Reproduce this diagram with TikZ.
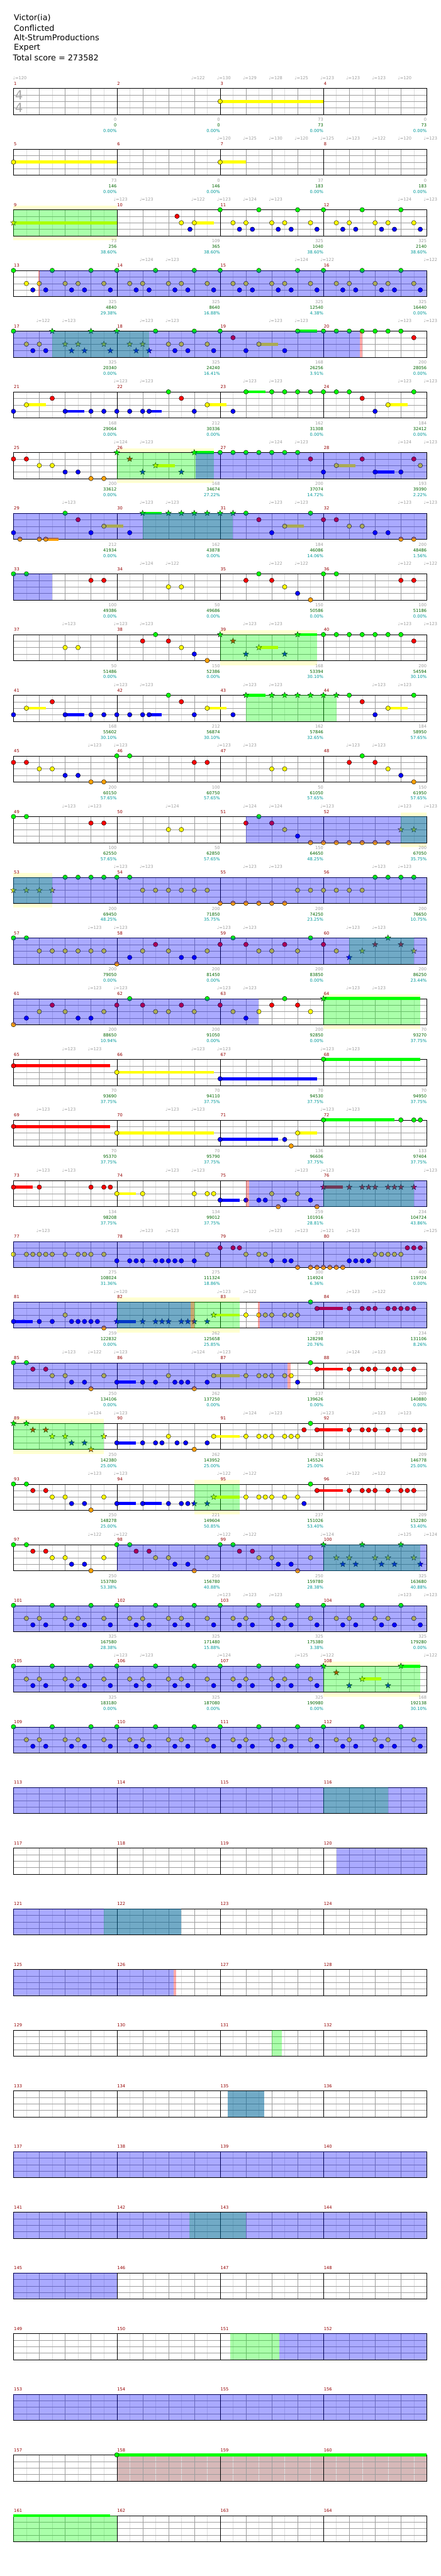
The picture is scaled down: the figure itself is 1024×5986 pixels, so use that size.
\documentclass[tikz,border=0pt]{standalone}
\usepackage{fontspec}
\setmainfont{DejaVu Sans}
\definecolor{ln0}{rgb}{0,1,0}
\definecolor{ln1}{rgb}{1,0,0}
\definecolor{ln2}{rgb}{1,1,0}
\definecolor{ln3}{rgb}{0,0,1}
\definecolor{ln4}{rgb}{1,0.63,0}
\definecolor{gridc}{gray}{0.62}
\definecolor{gridl}{gray}{0.87}
\definecolor{mnum}{rgb}{0.58,0,0}
\definecolor{tgray}{gray}{0.62}
\definecolor{tgreen}{rgb}{0,0.4,0}
\definecolor{tcyan}{rgb}{0,0.6,0.6}
\definecolor{bandc}{rgb}{1,1,0.82}
\definecolor{rosy}{rgb}{0.84,0.72,0.72}
\tikzset{
 small/.style={inner sep=0pt,font=\fontsize{9.8}{11}\selectfont},
 tempo/.style={small,anchor=west,text=tgray,xshift=-7pt},
 mnumst/.style={small,anchor=west,text=mnum,xshift=1pt},
 lgray/.style={small,anchor=east,text=tgray},
 lgreen/.style={small,anchor=east,text=tgreen},
 lcyan/.style={small,anchor=east,text=tcyan},
 head/.style={anchor=west,inner sep=0pt,font=\fontsize{18.7}{23}\selectfont},
 tsig/.style={inner sep=0pt,text=black!35,font=\fontsize{29}{30}\selectfont}
}
\newcommand\ggone[1]{}
\newcommand\ggtwo[2]{}
\newcommand\ggfour[4]{}
\newcommand\allOff{\let\ns\ggone\let\sts\ggone\let\sus\ggone\let\riff\ggone\let\riffs\ggone
 \let\bov\ggtwo\let\gov\ggtwo\let\yband\ggtwo\let\pnk\ggtwo\let\rsy\ggtwo\let\tps\ggone\let\lbl\ggfour}
\newcommand\mynote[2]{\filldraw[fill=ln#2,draw=black,line width=0.6pt] (#1,#2) circle[radius=5.3pt];}
\newcommand\starn[2]{\filldraw[fill=ln#2,draw=black,line width=0.5pt,shift={(#1,#2)},x=1pt,y=1pt]
 (90:7)--(126:2.9)--(162:7)--(198:2.9)--(234:7)--(270:2.9)--(306:7)--(342:2.9)--(18:7)--(54:2.9)--cycle;}
\newcommand\drY[2]{\fill[bandc] (#1,-0.66) rectangle (#2,4.7);}
\newcommand\drR[2]{\fill[rosy] (#1,0) rectangle (#2,4);}
\newcommand\drU[1]{\foreach \a/\b/\c in {#1}{\fill[ln\c] (\a,\c-0.23) rectangle (\b,\c+0.23);}}
\newcommand\drN[1]{\foreach \a/\c in {#1}{\mynote{\a}{\c}}}
\newcommand\drS[1]{\foreach \a/\c in {#1}{\starn{\a}{\c}}}
\newcommand\riffpat{0/0,1.5/0,3/0,0.5/2,1/2,2/2,2.5/2,3.5/2,0.75/3,1.25/3,2.25/3,2.75/3,3.75/3}
\newcommand\drRiff[1]{\foreach \o/\c in \riffpat{\pgfmathsetmacro\xx{4*#1+\o}\mynote{\xx}{\c}}}
\newcommand\drRiffS[1]{\foreach \o/\c in \riffpat{\pgfmathsetmacro\xx{4*#1+\o}\starn{\xx}{\c}}}
\newcommand\drG[2]{\fill[green,opacity=0.333] (#1,0) rectangle (#2,4);}
\newcommand\drB[2]{\fill[blue,opacity=0.333] (#1,0) rectangle (#2,4);}
\newcommand\drP[2]{\fill[red,opacity=0.333] (#1,0) rectangle (#2,4);}
\newcommand\drT[1]{\foreach \a/\v in {#1}{\node[tempo] at (\a,-1.61) {♩=\v};}}
\newcommand\drL[4]{\node[lgray] at (4*#1,4.81) {#2};\node[lgreen] at (4*#1,5.68) {#3};\node[lcyan] at (4*#1,6.54) {#4\%};}
\newcommand\Row[2]{%
\begin{scope}[shift={(31.3,205.5+141*#1)},x=60pt,y=-15.1pt]
\def\rowdata{#2}%
\allOff\let\yband\drY \rowdata
\fill[white] (0,0) rectangle (16,4);
\allOff\let\rsy\drR \rowdata
\draw[gridl] foreach \i in {0.5,1.5,...,15.5}{(\i,0)--(\i,4)};
\draw[gridc] foreach \i in {1,2,3,5,6,7,9,10,11,13,14,15}{(\i,0)--(\i,4)} foreach \l in {1,2,3}{(0,\l)--(16,\l)};
\draw[black] (4,0)--(4,4) (8,0)--(8,4) (12,0)--(12,4) (0,0) rectangle (16,4);
\allOff\let\sus\drU \rowdata
\allOff\let\ns\drN\let\sts\drS\let\riff\drRiff\let\riffs\drRiffS \rowdata
\allOff\let\gov\drG \rowdata
\allOff\let\bov\drB \rowdata
\allOff\let\pnk\drP \rowdata
\allOff\let\tps\drT\let\lbl\drL \rowdata
\foreach \m in {1,...,4}{\pgfmathtruncatemacro\mn{4*#1+\m}\node[mnumst] at (4*\m-4,-0.75) {\mn};}
\end{scope}}
\begin{document}
\begin{tikzpicture}[x=1pt,y=-1pt]
\useasboundingbox (0,0) rectangle (1024,5986);
\fill[white] (0,0) rectangle (1024,5986);
\node[head] (t1) at (32,42) {Victor(ia)};
\node[head] (t2) at (32,65) {Conflicted};
\node[head] (t3) at (32,88) {Alt-StrumProductions};
\node[head] (t4) at (32,111) {Expert};
\node[head] (t5) at (30,134) {Total score = 273582};
% row 0
\Row{0}{\ns{8/2}\sus{8/12/2}
\tps{0.1/120,7/122,8/130,9/129,10/128,11/125,12/123,13/123,14/123,15/120}
\lbl{1}{0}{0}{0.00}\lbl{2}{0}{0}{0.00}\lbl{3}{73}{73}{0.00}\lbl{4}{0}{73}{0.00}}
\node[tsig] (ts1) at (44,221) {4};
\node[tsig] (ts2) at (44,251) {4};
% row 1
\Row{1}{\ns{0/2,8/2}\sus{0/4/2,8/9/2}
\tps{8/120,9/125,10/130,11/120,12/125,13/123,14/122,15/120,16/123}
\lbl{1}{73}{146}{0.00}\lbl{2}{0}{146}{0.00}\lbl{3}{37}{183}{0.00}\lbl{4}{0}{183}{0.00}}
% row 2
\Row{2}{\yband{0}{4}\gov{0}{4}\sts{0/2}\sus{0/4/2,7/7.75/2}\ns{6.333/1,6.5/2,6.833/3,7/2}\riff{2}\riff{3}
\tps{4/123,5/123,7/122,8/123,9/124,10/123,15/124,16/123}
\lbl{1}{73}{256}{38.60}\lbl{2}{109}{365}{38.60}\lbl{3}{325}{1040}{38.60}\lbl{4}{325}{2140}{38.60}}
% row 3
\Row{3}{\riff{0}\riff{1}\riff{2}\riff{3}\bov{1.02}{16}\pnk{0.97}{1.02}
\tps{5/124,6/123,11/124,12/122,16/122}
\lbl{1}{325}{4840}{29.38}\lbl{2}{325}{8640}{16.88}\lbl{3}{325}{12540}{4.38}\lbl{4}{325}{16440}{0.00}}
% row 4
\Row{4}{\bov{0}{13.41}\pnk{13.41}{13.5}\gov{1.5}{5.25}
\sus{9.5/10.25/2,11/11.75/0}
\ns{0/0,0.5/2,1/2,0.75/3,1.25/3,5.5/0,7/0,6/2,6.5/2,7.5/2,6.25/3,6.75/3,7.75/3,8/0,8.5/1,9.5/2,9/3,10.5/3,11/0,12/0,12.5/0,13/0,13.5/0,14/0,14.5/0,15/0,15.5/1}
\sts{1.5/0,3/0,4/0,2/2,2.5/2,3.5/2,4.5/2,5/2,2.25/3,2.75/3,3.75/3,4.75/3,5.25/3}
\tps{1/122,2/123,5/123,6/123,10/123,11/123,15/123,16/123}
\lbl{1}{325}{20340}{0.00}\lbl{2}{325}{24240}{16.41}\lbl{3}{168}{26256}{3.91}\lbl{4}{200}{28056}{0.00}}
% row 5
\Row{5}{\sus{0.5/1.25/2,2/2.75/3,5.25/5.75/3,7.5/8.25/2,9/9.75/0,14.5/15.25/2}
\ns{0/3,0.5/2,1.5/1,2/3,3/3,3.5/3,4/3,4.5/3,5/3,5.25/3,6/0,6.5/1,7/3,7.5/2,8.5/3,9/0,10/0,10.5/0,11/0,11.5/0,12/0,12.5/0,13/0,13.5/1,14/3,14.5/2,15.5/0}
\tps{4/123,5/123,9/123,10/123,15/123,16/123}
\lbl{1}{168}{29064}{0.00}\lbl{2}{212}{30336}{0.00}\lbl{3}{162}{31308}{0.00}\lbl{4}{184}{32412}{0.00}}
% row 6
\Row{6}{\yband{4}{7.75}\gov{4}{7.75}\bov{7.06}{16}
\sus{5.5/6.25/2,7/7.75/0,12.5/13.25/2,14/14.75/3}
\ns{0/1,0.5/1,1/2,1.5/2,2/3,2.5/3,3/4,3.5/4,8/0,8.5/0,9/0,9.5/0,10/0,10.5/0,11/0,11.5/1,12/3,12.5/2,13.5/1,14/3,15/3,15.5/1,15.75/2}
\sts{4/0,4.5/1,5/3,5.5/2,6.5/3,7/0}
\tps{4/124,5/123,10/124,11/123,15/124,16/123}
\lbl{1}{200}{33612}{0.00}\lbl{2}{168}{34674}{27.22}\lbl{3}{200}{37074}{14.72}\lbl{4}{193}{39390}{2.22}}
% row 7
\Row{7}{\bov{0}{16}\gov{5}{8.5}
\sus{1.25/1.75/4,3.5/4.25/2,5/5.75/0,10.5/11.25/2}
\ns{0/3,0.25/4,1/4,1.25/4,2/0,2.5/1,3/3,3.5/2,4.5/3,9/0,9.5/1,10/3,10.5/2,11.5/0,12/1,12.5/1,13/2,13.5/2,14/3,14.5/3,15/4,15.5/4}
\sts{5/0,6/0,6.5/0,7/0,7.5/0,8/0,8.5/0}
\tps{2/123,5/123,6/123,10/123,11/123,15/123,16/123}
\lbl{1}{212}{41934}{0.00}\lbl{2}{162}{43878}{0.00}\lbl{3}{184}{46086}{14.06}\lbl{4}{200}{48486}{1.56}}
% row 8
\Row{8}{\bov{0}{1.5}
\ns{0/0,0.5/0,3/1,3.5/1,6/2,6.5/2,9/1,9.5/0,10/1,10.5/2,11/3,11.5/4,12/0,12.5/0,15/1,15.5/1}
\tps{5/124,6/122,10/122,11/122,15/122,16/122}
\lbl{1}{100}{49386}{0.00}\lbl{2}{50}{49686}{0.00}\lbl{3}{150}{50586}{0.00}\lbl{4}{100}{51186}{0.00}}
% row 9
\Row{9}{\yband{8}{11.75}\gov{8}{11.75}
\sus{9.5/10.25/2,11/11.75/0}
\ns{2/2,2.5/2,5/1,5.5/0,6/1,6.5/2,7/3,7.5/4,12/0,12.5/0,13/0,13.5/0,14/0,14.5/0,15/0,15.5/1}
\sts{8/0,8.5/1,9/3,9.5/2,10.5/3,11/0}
\tps{2/123,4/123,5/123,9/123,10/123,15/123,16/123}
\lbl{1}{50}{51486}{0.00}\lbl{2}{150}{52386}{0.00}\lbl{3}{168}{53394}{30.10}\lbl{4}{200}{54594}{30.10}}
% row 10
\Row{10}{\gov{9}{12.5}
\sus{0.5/1.25/2,2/2.75/3,5.25/5.75/3,7.5/8.25/2,9/9.75/0,14.5/15.25/2}
\ns{0/3,0.5/2,1.5/1,2/3,3/3,3.5/3,4/3,4.5/3,5/3,5.25/3,6/0,6.5/1,7/3,7.5/2,8.5/3,13/0,13.5/1,14/3,14.5/2,15.5/0}
\sts{9/0,10/0,10.5/0,11/0,11.5/0,12/0,12.5/0}
\tps{4/123,5/123,9/123,10/123,14/123,15/123}
\lbl{1}{168}{55602}{30.10}\lbl{2}{212}{56874}{30.10}\lbl{3}{162}{57846}{32.65}\lbl{4}{184}{58950}{57.65}}
% row 11
\Row{11}{\ns{0/1,0.5/1,1/2,1.5/2,2/3,2.5/3,3/4,3.5/4,4/0,4.5/0,7/1,7.5/1,10/2,10.5/2,13/1,13.5/0,14/1,14.5/2,15/3,15.5/4}
\tps{3/123,4/123,8/123,9/123,13/123,14/123}
\lbl{1}{200}{60150}{57.65}\lbl{2}{100}{60750}{57.65}\lbl{3}{50}{61050}{57.65}\lbl{4}{150}{61950}{57.65}}
% row 12
\Row{12}{\yband{15}{16}\gov{15}{16}\bov{9}{16}
\ns{0/0,0.5/0,3/1,3.5/1,6/2,6.5/2,9/1,9.5/0,10/1,10.5/2,11/3,11.5/4,12/4,12.5/4,13/4,13.5/4,14/4,14.5/4}
\sts{15/2,15.5/2}
\tps{2/123,3/123,6/124,9/124,10/124,12/123,15/123,16/123}
\lbl{1}{100}{62550}{57.65}\lbl{2}{50}{62850}{57.65}\lbl{3}{150}{64650}{48.25}\lbl{4}{200}{67050}{35.75}}
% row 13
\Row{13}{\yband{0}{1.5}\gov{0}{1.5}\bov{0}{16}
\sts{0/2,0.5/2,1/2,1.5/2}
\ns{2/0,2.5/0,3/0,3.5/0,4/0,4.5/0,5/2,5.5/2,6/2,6.5/2,7/2,7.5/2,8/4,8.5/4,9/4,9.5/4,10/4,10.5/4,11/2,11.5/2,12/2,12.5/2,13/2,13.5/2,14/0,14.5/0,15/0,15.5/0}
\tps{4/123,5/123,9/123,10/123,14/123,15/123}
\lbl{1}{200}{69450}{48.25}\lbl{2}{200}{71850}{35.75}\lbl{3}{200}{74250}{23.25}\lbl{4}{200}{76650}{10.75}}
% row 14
\Row{14}{\bov{0}{16}\gov{13}{15.5}
\ns{0/0,0.5/0,1/2,1.5/2,2/2,2.5/2,3/2,3.5/2,4/4,4.5/3,5/2,5.5/1,6/2,6.5/3,7/3,7.5/2,8/1,8.5/0,9/1,9.5/2,10/2,10.5/1,11/2,11.5/0,12/1,12.5/2}
\sts{13/3,13.5/2,14/1,14.5/0,15/1,15.5/2}
\tps{3/123,4/123,8/123,9/123,13/123,14/123}
\lbl{1}{200}{79050}{0.00}\lbl{2}{200}{81450}{0.00}\lbl{3}{200}{83850}{0.00}\lbl{4}{200}{86250}{23.44}}
% row 15
\Row{15}{\yband{12}{15.75}\gov{12}{15.75}\bov{0}{9.5}
\sus{12/15.75/0}
\ns{0/4,0.5/3,1/2,1.5/1,2/2,2.5/3,3/3,3.5/2,4/1,4.5/0,5/1,5.5/2,6/2,6.5/1,7/2,7.5/0,8/1,8.5/2,9/3,9.5/2,10/1,10.5/0,11/1,11.5/2}
\sts{12/0}
\tps{3/123,4/123,8/123,9/123,13/123,14/123}
\lbl{1}{200}{88650}{10.94}\lbl{2}{200}{91050}{0.00}\lbl{3}{200}{92850}{0.00}\lbl{4}{70}{93270}{37.75}}
% row 16
\Row{16}{\sus{0/3.75/1,4/7.75/2,8/11.75/3,12/15.75/0}
\ns{0/1,4/2,8/3,12/0}
\tps{2/123,3/123,7/123,8/123,12/123,13/123}
\lbl{1}{70}{93690}{37.75}\lbl{2}{70}{94110}{37.75}\lbl{3}{70}{94530}{37.75}\lbl{4}{70}{94950}{37.75}}
% row 17
\Row{17}{\sus{0/3.75/1,4/7.75/2,8/10.25/3,11/11.75/2,12/14.75/0}
\ns{0/1,4/2,8/3,10.5/3,10.75/4,11/2,12/0,15/0,15.5/0,15.75/0}
\tps{1/123,2/123,6/123,7/123,12/123,13/123}
\lbl{1}{70}{95370}{37.75}\lbl{2}{70}{95790}{37.75}\lbl{3}{136}{96606}{37.75}\lbl{4}{133}{97404}{37.75}}
% row 18
\Row{18}{\pnk{9}{9.13}\bov{9.13}{16}\gov{12}{15.5}
\sus{0/0.75/1,4/4.75/2,8/8.75/3,12/12.75/1}
\ns{0/1,1/1,3/1,3.5/1,3.75/1,4/2,5/2,7/2,7.5/2,7.75/2,8/3,9/3,9.5/3,9.75/3,10/2,10.25/4,10.5/3,11/2,11.5/3,11.75/4}
\sts{12/1,13/1,13.5/1,13.75/1,14/1,14.5/1,14.75/1,15/1,15.5/1}
\tps{1/123,2/123,6/123,7/123,11/123,12/123,16/123}
\lbl{1}{134}{98208}{37.75}\lbl{2}{134}{99012}{37.75}\lbl{3}{259}{101916}{28.81}\lbl{4}{234}{104724}{43.86}}
% row 19
\Row{19}{\bov{0}{16}
\ns{0/2,0.5/2,0.75/2,1/2,1.25/2,1.5/2,2/2,2.5/2,2.75/2,3/2,3.5/2,4/3,4.5/3,4.75/3,5/3,5.5/3,5.75/3,6/3,6.25/3,6.5/3,7/3,7.5/2,8/1,8.5/1,8.75/1,9/2,9.5/2,9.75/2,10/3,10.5/3,10.75/3,11/4,11.5/4,11.75/4,12/4,12.25/4,12.5/4,12.75/4,13/3,13.25/3,13.5/3,13.75/3,14/2,14.25/2,14.5/2,14.75/2,15/2,15.25/1,15.5/1,15.75/1}
\tps{1/123,5/123,6/123,10/123,11/123,12/121,13/123,16/125}
\lbl{1}{275}{108024}{31.36}\lbl{2}{275}{111324}{18.86}\lbl{3}{300}{114924}{6.36}\lbl{4}{400}{119724}{0.00}}
% row 20
\Row{20}{\yband{4}{8.75}\gov{4}{8.75}\bov{0}{6.86}\pnk{6.86}{7}\pnk{9.47}{9.53}\bov{9.53}{16}
\sus{0/0.75/3,4/4.75/3,7.75/8.75/2,11.75/12.75/1}
\ns{0/3,1/3,1.5/3,2/2,2.25/3,2.5/3,2.75/3,3/3,3.25/3,3.5/4,9/2,9.5/2,9.75/2,10/2,10.5/2,10.75/2,11/2,11.5/0,11.75/1,13/1,13.5/1,13.75/1,14/1,14.5/1,14.75/1,15/1,15.25/1,15.5/1}
\sts{4/3,5/3,5.5/3,5.75/3,6/3,6.5/3,6.75/3,7/3,7.5/3,7.75/2}
\tps{4/120,8/123,9/122,13/123,14/122}
\lbl{1}{259}{122832}{0.00}\lbl{2}{262}{125658}{25.85}\lbl{3}{237}{128298}{20.76}\lbl{4}{234}{131106}{8.26}}
% row 21
\Row{21}{\bov{0}{10.61}\pnk{10.61}{10.74}
\sus{4/4.75/3,7.75/8.75/2,11.75/12.75/1}
\ns{0/0,0.5/0,0.75/1,1.25/1,1.5/2,2/2,2.25/3,2.75/3,3/4,3.5/2,4/3,5/3,5.5/3,6/2,6.25/3,6.5/3,6.75/3,7/4,7.5/3,7.75/2,9/2,9.5/2,9.75/2,10/2,10.5/2,10.75/2,11/3,11.5/0,11.75/1,13/1,13.5/1,13.75/1,14/1,14.5/1,14.75/1,15/1,15.5/1}
\tps{2/123,3/122,4/123,7/124,8/123,13/124,14/123}
\lbl{1}{250}{134106}{0.00}\lbl{2}{262}{137250}{0.00}\lbl{3}{237}{139626}{0.00}\lbl{4}{209}{140880}{0.00}}
% row 22
\Row{22}{\yband{0}{3.5}\gov{0}{3.5}
\sus{4/4.75/3,7.75/8.75/2,11.75/12.75/1}
\sts{0/0,0.5/0,0.75/1,1.25/1,1.5/2,2/2,2.25/3,2.75/3,3/4,3.5/2}
\ns{4/3,5/3,5.5/3,5.75/3,6/2,6.333/3,6.667/3,7/4,7.5/3,7.75/2,9/2,9.5/2,9.75/2,10/2,10.5/2,10.75/2,11/2,11.25/1,11.5/0,11.75/1,13/1,13.5/1,13.75/1,14/1,14.5/1,15/1,15.5/1,15.75/1}
\tps{3/124,4/123,9/124,10/123,12/123,14/123,15/123}
\lbl{1}{250}{142380}{25.00}\lbl{2}{262}{143952}{25.00}\lbl{3}{262}{145524}{25.00}\lbl{4}{209}{146778}{25.00}}
% row 23
\Row{23}{\yband{7}{8.75}\gov{7}{8.75}
\sus{4/4.75/3,5/5.75/3,7.75/8.75/2,11.75/12.75/1}
\ns{0/0,0.5/0,0.75/1,1.25/1,1.5/2,2/2,2.25/3,2.75/3,3/4,3.5/2,4/3,5/3,6/3,6.5/3,6.75/3,9/2,9.5/2,9.75/2,10/2,10.5/2,11/2,11.25/3,11.5/0,11.75/1,13/1,13.5/1,13.75/1,14/1,14.5/1,15/1,15.25/1,15.5/1}
\sts{7/3,7.5/3,7.75/2}
\tps{3/123,4/123,8/122,9/122,13/122,14/122}
\lbl{1}{250}{148278}{25.00}\lbl{2}{221}{149604}{50.85}\lbl{3}{237}{151026}{53.40}\lbl{4}{209}{152280}{53.40}}
% row 24
\Row{24}{\bov{4}{16}\gov{12}{15.75}
\ns{0/0,0.5/0,0.75/1,1.25/1,1.5/2,2/2,2.25/3,2.75/3,3/4,3.5/2,4/0,4.5/0,4.75/1,5.25/1,5.5/2,6/2,6.25/3,6.75/3,7/4,7.5/2,8/0,8.5/0,8.75/1,9.25/1,9.5/2,10/2,10.25/3,10.75/3,11/4,11.5/2}
\riffs{3}
\tps{3/122,4/122,8/122,9/122,12/124,15/125,16/124}
\lbl{1}{250}{153780}{53.38}\lbl{2}{250}{156780}{40.88}\lbl{3}{250}{159780}{28.38}\lbl{4}{325}{163680}{40.88}}
% row 25
\Row{25}{\bov{0}{16}\riff{0}\riff{1}\riff{2}\riff{3}
\tps{8/123,9/123,10/123,15/123,16/123}
\lbl{1}{325}{167580}{28.38}\lbl{2}{325}{171480}{15.88}\lbl{3}{325}{175380}{3.38}\lbl{4}{325}{179280}{0.00}}
% row 26
\Row{26}{\bov{0}{12}\yband{12}{15.75}\gov{12}{15.75}\riff{0}\riff{1}\riff{2}
\sus{13.5/14.25/2,15/15.75/0}
\sts{12/0,12.5/1,13/3,13.5/2,14.5/3,15/0}
\tps{4/123,5/123,8/124,11/125,12/122,16/122}
\lbl{1}{325}{183180}{0.00}\lbl{2}{325}{187080}{0.00}\lbl{3}{325}{190980}{0.00}\lbl{4}{168}{192138}{30.10}}
% rows 27-40 (regions read from the overview only)
\Row{27}{\bov{0}{16}\riff{0}\riff{1}\riff{2}\riff{3}}
\Row{28}{\bov{0}{16}\gov{12}{14.5}}
\Row{29}{\bov{12.5}{16}}
\Row{30}{\bov{0}{6.5}\gov{3.5}{6.5}}
\Row{31}{\bov{0}{6.2}\pnk{6.2}{6.3}}
\Row{32}{\gov{10}{10.4}}
\Row{33}{\gov{8.3}{9.7}\bov{8.3}{9.7}}
\Row{34}{\bov{0}{16}}
\Row{35}{\bov{0}{16}\gov{6.8}{9}}
\Row{36}{\bov{0}{4}}
\Row{37}{\gov{8.4}{10.3}\bov{10.3}{16}}
\Row{38}{\bov{0}{16}}
\Row{39}{\rsy{4}{16}\sus{4/16/0}\ns{4/0}}
\Row{40}{\gov{0}{4}\sus{0/3.75/0}}
\end{tikzpicture}
\end{document}
